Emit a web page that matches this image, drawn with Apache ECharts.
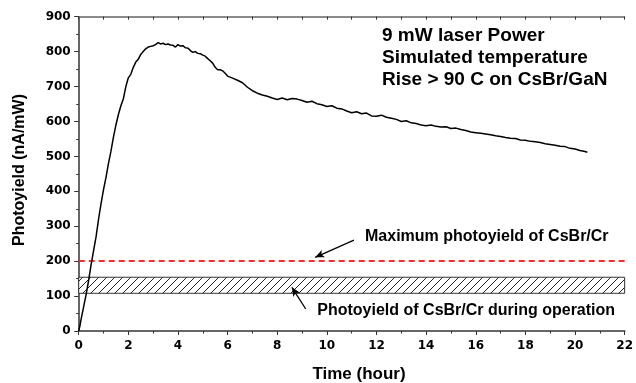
<!DOCTYPE html>
<html>
<head>
<meta charset="utf-8">
<script src="https://cdn.jsdelivr.net/npm/echarts@6/dist/echarts.min.js"></script>
<style>html,body{margin:0;padding:0;background:#fff}#c{width:636px;height:383px}</style>
</head>
<body>
<div id="c"></div>
<script>
// ---- data ----
var timeHours = [0,0.05,0.1,0.2,0.3,0.4,0.5,0.6,0.7,0.8,0.9,1.0,1.1,1.2,1.3,1.4,1.5,1.6,1.7,1.8,1.9,2.0,2.1,2.2,2.3,2.4,2.5,2.6,2.7,2.8,2.9,3.0,3.1,3.2,3.3,3.4,3.5,3.6,3.7,3.8,3.9,4.0,4.1,4.2,4.3,4.4,4.5,4.6,4.7,4.8,4.9,5.0,5.1,5.2,5.3,5.4,5.5,5.6,5.7,5.8,5.9,6.0,6.2,6.4,6.6,6.8,7.0,7.2,7.4,7.6,7.8,8.0,8.2,8.4,8.6,8.8,9.0,9.2,9.4,9.6,9.8,10.0,10.2,10.4,10.6,10.8,11.0,11.2,11.4,11.6,11.8,12.0,12.2,12.4,12.6,12.8,13.0,13.2,13.4,13.6,13.8,14.0,14.2,14.4,14.6,14.8,15.0,15.2,15.4,15.6,15.8,16.0,16.2,16.4,16.6,16.8,17.0,17.2,17.4,17.6,17.8,18.0,18.2,18.4,18.6,18.8,19.0,19.2,19.4,19.6,19.8,20.0,20.2,20.4,20.5];
var photoyield = [0,15,35,70,105,145,190,230,270,320,365,405,440,480,515,555,590,620,645,665,700,725,735,755,770,778,792,800,808,813,815,817,820,826,822,824,820,822,819,818,813,820,816,817,811,810,803,798,800,795,794,790,787,780,774,767,755,748,748,745,738,730,724,718,711,698,688,681,676,672,667,663,667,662,666,664,660,655,658,651,648,643,645,638,636,630,625,628,622,624,616,615,618,612,609,606,600,602,596,594,590,588,590,586,584,585,580,581,577,574,570,568,566,564,562,559,557,554,552,551,547,546,543,542,540,536,534,532,529,528,523,521,517,514,512];
var xTicks = [0,2,4,6,8,10,12,14,16,18,20,22];
var yTicks = [0,100,200,300,400,500,600,700,800,900];
var operationBand = [108, 154];      // hatched band (nA/mW)
var maxPhotoyield = 202;             // red dashed line (nA/mW)
var arrowMax = [[11.09, 260], [9.53, 211]];   // [from, to] in (hour, nA/mW)
var arrowOp = [[9.15, 63], [8.59, 125]];
var noteLines = ['9 mW laser Power', 'Simulated temperature', 'Rise > 90 C on CsBr/GaN'];
var noteMax = 'Maximum photoyield of CsBr/Cr';
var noteOp = 'Photoyield of CsBr/Cr during operation';

// hatch pattern
var pat = document.createElement('canvas');
pat.width = 8; pat.height = 8;
var g = pat.getContext('2d');
g.fillStyle = '#fff'; g.fillRect(0,0,8,8);
g.strokeStyle = '#222'; g.lineWidth = 1;
g.beginPath();
g.moveTo(0,8); g.lineTo(8,0);
g.moveTo(-1,1); g.lineTo(1,-1);
g.moveTo(7,9); g.lineTo(9,7);
g.stroke();

var seriesData = timeHours.map(function(t,i){ return [t, photoyield[i]]; });

function tickFont(sz){ return {fontFamily: 'DejaVu Sans', fontWeight: 'bold', fontSize: sz, color: '#000'}; }

function txt(x, y, s, size, align, rot){
  return {type: 'text', x: x, y: y, rotation: rot || 0, silent: true,
    style: {text: s, fontFamily: 'Liberation Sans', fontWeight: 'bold', fontSize: size,
            fill: '#000', align: align, verticalAlign: 'middle'}};
}

var chart = echarts.init(document.getElementById('c'), null, {renderer: 'canvas'});
chart.setOption({
  animation: false,
  backgroundColor: '#fff',
  grid: {left: 78.7, right: 9.3, top: 16.7, bottom: 52},
  xAxis: [{
    type: 'value', min: xTicks[0], max: xTicks[xTicks.length-1], interval: 2,
    axisLine: {show: true, onZero: false, lineStyle: {color: '#666', width: 2}},
    axisTick: {show: true, inside: false, length: 4, lineStyle: {color: '#333', width: 1}},
    minorTick: {show: true, splitNumber: 2, length: 2.5, lineStyle: {color: '#333', width: 1}},
    axisLabel: Object.assign({margin: 9}, tickFont(12)),
    splitLine: {show: false}
  }, {
    type: 'value', position: 'top', min: 0, max: 22, interval: 1,
    axisLine: {show: true, onZero: false, lineStyle: {color: '#666', width: 1.5}},
    axisTick: {show: true, inside: true, length: 3, lineStyle: {color: '#333'}},
    axisLabel: {show: false}, splitLine: {show: false}
  }],
  yAxis: {
    type: 'value', min: yTicks[0], max: yTicks[yTicks.length-1], interval: 100,
    axisLine: {show: true, onZero: false, lineStyle: {color: '#333', width: 1.5}},
    axisTick: {show: true, inside: false, length: 4.5, lineStyle: {color: '#333', width: 1}},
    minorTick: {show: true, splitNumber: 2, length: 2.5, lineStyle: {color: '#333', width: 1}},
    axisLabel: Object.assign({margin: 8}, tickFont(12)),
    splitLine: {show: false}
  },
  series: [{
    type: 'line',
    data: seriesData,
    showSymbol: false,
    symbol: 'none',
    lineStyle: {color: '#000', width: 1.5},
    z: 5,
    markArea: {
      silent: true,
      itemStyle: {color: {image: pat, repeat: 'repeat'}, opacity: 1, borderColor: '#333', borderWidth: 1},
      data: [[{xAxis: 0, yAxis: operationBand[0]}, {xAxis: 22, yAxis: operationBand[1]}]]
    },
    markLine: {
      silent: true,
      symbol: ['none', 'none'],
      label: {show: false},
      emphasis: {disabled: true},
      data: [
        {yAxis: maxPhotoyield, lineStyle: {color: '#ff2a2a', width: 2, type: [6, 4]}},
        [{coord: arrowMax[0], symbol: 'none', lineStyle: {color: '#000', width: 1.3, type: 'solid'}},
         {coord: arrowMax[1], symbol: 'arrow', symbolSize: [6, 9]}],
        [{coord: arrowOp[0], symbol: 'none', lineStyle: {color: '#000', width: 1.3, type: 'solid'}},
         {coord: arrowOp[1], symbol: 'arrow', symbolSize: [6, 9]}]
      ]
    }
  }],
  graphic: [
    txt(20, 170, 'Photoyield (nA/mW)', 16, 'center', Math.PI/2),
    txt(359, 374, 'Time (hour)', 17, 'center'),
    txt(382, 35.5, noteLines[0], 19, 'left'),
    txt(382, 57.8, noteLines[1], 19, 'left'),
    txt(382, 80.1, noteLines[2], 19, 'left'),
    txt(365, 236.7, noteMax, 16, 'left'),
    txt(317.3, 310.3, noteOp, 16, 'left')
  ]
});
</script>
</body>
</html>
